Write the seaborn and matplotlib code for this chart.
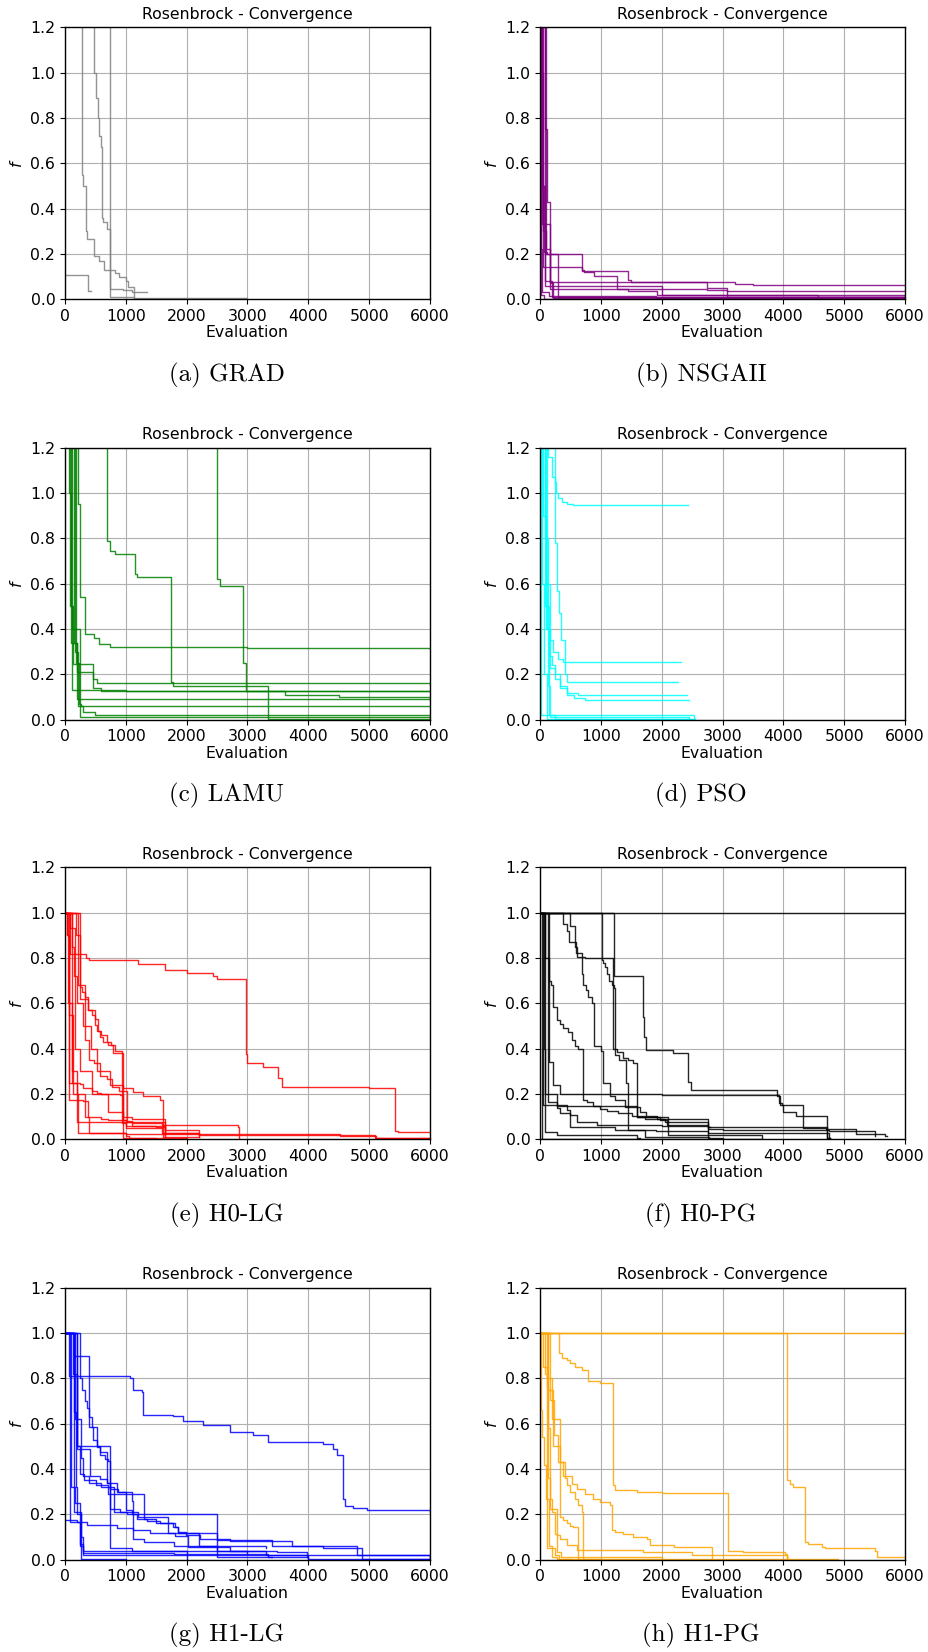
import numpy as np
import pandas as pd
import matplotlib
matplotlib.use("Agg")
import matplotlib.pyplot as plt
import seaborn as sns

# ---------------- data (step-wise convergence runs) ----------------
XTICKS = [0, 1000, 2000, 3000, 4000, 5000, 6000]
YTICKS = [0.0, 0.2, 0.4, 0.6, 0.8, 1.0, 1.2]

GRAD_X = [
    [0, 274, 300, 345, 365, 480, 560, 640, 820, 880, 1010, 1040, 1123, 1134, 3000],
    [0, 477, 510, 537, 564, 592, 603, 630, 685, 740, 960, 1100, 1342],
    [0, 745, 1130, 2000],
    [0, 384, 427],
]
GRAD_Y = [
    [5, 0.55, 0.50, 0.30, 0.265, 0.19, 0.17, 0.13, 0.115, 0.10, 0.08, 0.055, 0.055, 0.004, 0.003],
    [5, 1.0, 0.89, 0.80, 0.72, 0.67, 0.36, 0.34, 0.31, 0.045, 0.04, 0.032, 0.03],
    [5, 0.008, 0.003, 0.002],
    [0.107, 0.037, 0.037],
]

NSGA_X = [
    [0, 30, 60, 120, 690, 730, 880, 1260, 2740, 3070, 6000],
    [0, 20, 50, 690, 1450, 1500, 3205, 3507, 6000],
    [0, 80, 110, 160, 2740, 3070, 6000],
    [0, 40, 170, 1450, 1918, 4575, 4630, 6000],
    [0, 25, 80, 200, 6000],
    [0, 15, 40, 150, 1900, 6000],
    [0, 50, 100, 300, 6000],
    [0, 10, 60, 6000],
    [0, 100, 160, 220, 6000],
    [0, 70, 90, 2000, 6000],
]
NSGA_Y = [
    [4, 0.5, 0.21, 0.199, 0.13, 0.12, 0.103, 0.044, 0.042, 0.012, 0.012],
    [3, 1.0, 0.144, 0.126, 0.085, 0.077, 0.068, 0.063, 0.063],
    [3, 0.75, 0.43, 0.075, 0.048, 0.038, 0.038],
    [2, 0.33, 0.044, 0.037, 0.019, 0.012, 0.008, 0.008],
    [5, 0.5, 0.08, 0.012, 0.01],
    [1.5, 0.22, 0.03, 0.015, 0.006, 0.005],
    [6, 0.3, 0.2, 0.008, 0.004],
    [2.5, 0.02, 0.003, 0.002],
    [4, 0.22, 0.07, 0.005, 0.003],
    [5, 1.2, 0.06, 0.02, 0.015],
]

LAMU_X = [
    [0, 696, 740, 820, 1150, 1180, 1737, 1780, 3342, 6000],
    [0, 2504, 2540, 2932, 2980, 6000],
    [0, 210, 240, 330, 480, 560, 740, 3000, 6000],
    [0, 60, 100, 130, 455, 520, 3500, 6000],
    [0, 80, 110, 1000, 6000],
    [0, 150, 200, 6000],
    [0, 100, 190, 455, 600, 3616, 4500, 6000],
    [0, 180, 230, 260, 6000],
    [0, 170, 210, 300, 500, 6000],
    [0, 120, 250, 6000],
]
LAMU_Y = [
    [5, 0.79, 0.745, 0.73, 0.645, 0.63, 0.166, 0.148, 0.004, 0.003],
    [5, 0.62, 0.59, 0.25, 0.125, 0.125],
    [5, 0.95, 0.54, 0.38, 0.36, 0.335, 0.32, 0.315, 0.313],
    [2, 1.0, 0.5, 0.247, 0.18, 0.163, 0.16, 0.155],
    [5, 0.5, 0.13, 0.127, 0.125],
    [3, 0.34, 0.09, 0.088],
    [2.5, 0.34, 0.21, 0.14, 0.128, 0.11, 0.1, 0.095],
    [4, 0.25, 0.07, 0.059, 0.058],
    [5, 0.3, 0.06, 0.034, 0.02, 0.018],
    [3, 0.4, 0.012, 0.008],
]

PSO_X = [
    [0, 247, 270, 300, 360, 450, 548, 2427],
    [0, 137, 192, 247, 274, 312, 340, 411, 438, 2263],
    [0, 100, 160, 220, 300, 384, 2312],
    [0, 90, 150, 200, 250, 330, 450, 630, 2411],
    [0, 110, 170, 240, 330, 450, 560, 740, 2455],
    [0, 30, 60, 110, 2550],
    [0, 50, 100, 150, 250, 2500],
    [0, 20, 2530],
    [0, 80, 130, 170, 2450],
]
PSO_Y = [
    [5, 1.05, 1.0, 0.98, 0.96, 0.95, 0.948, 0.948],
    [5, 1.16, 1.07, 0.78, 0.57, 0.47, 0.35, 0.2, 0.167, 0.167],
    [5, 0.6, 0.35, 0.3, 0.27, 0.254, 0.254],
    [4, 0.5, 0.28, 0.24, 0.2, 0.15, 0.12, 0.107, 0.107],
    [5, 0.4, 0.23, 0.18, 0.14, 0.11, 0.095, 0.088, 0.088],
    [5, 0.6, 0.2, 0.005, 0.003],
    [5, 0.9, 0.4, 0.02, 0.005, 0.003],
    [5, 0.02, 0.001],
    [5, 0.8, 0.15, 0.01, 0.003],
]

H0LG_X = [
    [0, 80, 345, 400, 1205, 1644, 2000, 2438, 2500, 2970, 3000, 3250, 3507, 3560, 5000, 5425, 5480, 6000],
    [0, 30, 71, 250, 290, 440, 520, 600, 900, 960, 1100, 1640, 2200],
    [0, 247, 275, 330, 385, 440, 493, 521, 575, 630, 712, 795, 932, 1000, 1650],
    [0, 110, 150, 200, 300, 420, 520, 740, 960, 1120, 1290, 1562, 1616, 2200],
    [0, 180, 250, 380, 490, 550, 600, 690, 750, 830, 940, 948, 1500],
    [0, 210, 330, 400, 470, 580, 690, 770, 880, 1014, 1100, 1500, 1640, 1650],
    [0, 40, 71, 300, 380, 600, 700, 1000, 1640, 2200],
    [0, 50, 120, 192, 600, 1120, 1600, 2850, 2860],
    [0, 120, 200, 330, 400, 1000, 1100, 4520, 5120, 6000],
    [0, 60, 130, 220, 1000, 1050, 2000],
    [0, 90, 170, 250, 450, 700, 960, 1000, 1600, 2200, 4000, 5100, 6000],
]
H0LG_Y = [
    [1.0, 0.816, 0.80, 0.79, 0.774, 0.745, 0.735, 0.72, 0.708, 0.376, 0.335, 0.32, 0.27, 0.232, 0.225, 0.037, 0.031, 0.031],
    [1.0, 0.9, 0.25, 0.245, 0.225, 0.215, 0.205, 0.2, 0.195, 0.1, 0.09, 0.03, 0.02],
    [1.0, 0.67, 0.65, 0.63, 0.57, 0.55, 0.505, 0.48, 0.45, 0.43, 0.415, 0.38, 0.07, 0.06, 0.02],
    [1.0, 0.85, 0.72, 0.6, 0.5, 0.4, 0.3, 0.24, 0.225, 0.21, 0.19, 0.174, 0.012, 0.012],
    [1.0, 0.9, 0.62, 0.57, 0.53, 0.48, 0.46, 0.43, 0.415, 0.39, 0.38, 0.005, 0.004],
    [1.0, 0.68, 0.44, 0.35, 0.335, 0.28, 0.265, 0.23, 0.215, 0.08, 0.06, 0.055, 0.01, 0.01],
    [1.0, 0.9, 0.174, 0.17, 0.1, 0.09, 0.085, 0.075, 0.04, 0.01],
    [1.0, 0.6, 0.25, 0.078, 0.076, 0.074, 0.065, 0.055, 0.004],
    [1.0, 0.3, 0.2, 0.1, 0.03, 0.025, 0.024, 0.015, 0.004, 0.004],
    [1.0, 0.55, 0.2, 0.026, 0.015, 0.005, 0.004],
    [1.0, 0.93, 0.4, 0.3, 0.2, 0.12, 0.085, 0.05, 0.03, 0.02, 0.018, 0.005, 0.004],
]

H0PG_X = [
    [0, 6000],
    [0, 1025, 1040, 1070, 1100, 1140, 1180, 1220, 1233, 1260, 1370, 1450, 1530, 1600, 1640, 1970, 2082, 2767, 3014],
    [0, 1222, 1699, 1710, 1750, 2192, 2438, 2480, 3890, 3930, 3970, 4329, 4700, 5200, 5671, 5700],
    [0, 384, 440, 480, 600, 685, 740, 1205, 1240, 1300, 1408, 1440, 1900, 2767, 4750, 4760],
    [0, 493, 575, 603, 685, 712, 753, 795, 850, 890, 1000, 1030, 1150, 1233, 1400, 1640, 1750, 1918, 2767, 4712, 4750],
    [0, 153, 175, 219, 274, 329, 383, 466, 521, 575, 630, 704, 767, 877, 986, 1096, 1288, 1507, 1726, 2055, 2767, 2800],
    [0, 80, 150, 219, 329, 2000, 3890, 3950, 4000, 4200, 4712, 4760],
    [0, 137, 274, 438, 493, 603, 932, 2000, 2767, 3014, 4750, 5500],
    [0, 55, 274, 329, 493, 1233, 1726, 2767, 2780],
    [0, 82, 274, 1589, 1640],
    [0, 25, 3650],
    [0, 60, 80, 274, 1600, 2100, 3650],
]
H0PG_Y = [
    [1.0, 1.0],
    [1.0, 0.79, 0.78, 0.76, 0.73, 0.70, 0.68, 0.666, 0.40, 0.385, 0.357, 0.35, 0.335, 0.10, 0.097, 0.085, 0.063, 0.004, 0.004],
    [1.0, 0.72, 0.54, 0.45, 0.395, 0.38, 0.254, 0.218, 0.195, 0.16, 0.151, 0.049, 0.045, 0.025, 0.015, 0.015],
    [1.0, 0.95, 0.92, 0.87, 0.82, 0.806, 0.8, 0.40, 0.37, 0.35, 0.25, 0.04, 0.035, 0.03, 0.005, 0.005],
    [1.0, 0.94, 0.85, 0.806, 0.73, 0.68, 0.66, 0.63, 0.6, 0.41, 0.39, 0.247, 0.19, 0.174, 0.144, 0.122, 0.103, 0.09, 0.056, 0.004, 0.004],
    [1.0, 0.70, 0.68, 0.585, 0.527, 0.51, 0.49, 0.475, 0.44, 0.41, 0.40, 0.174, 0.165, 0.145, 0.135, 0.125, 0.115, 0.105, 0.09, 0.078, 0.056, 0.056],
    [1.0, 0.8, 0.34, 0.24, 0.2, 0.195, 0.19, 0.15, 0.12, 0.105, 0.005, 0.005],
    [1.0, 0.166, 0.15, 0.13, 0.107, 0.078, 0.063, 0.058, 0.045, 0.04, 0.035, 0.015],
    [1.0, 0.15, 0.14, 0.115, 0.056, 0.04, 0.012, 0.01, 0.01],
    [1.0, 0.034, 0.019, 0.004, 0.004],
    [1.0, 0.002, 0.001],
    [1.0, 0.4, 0.2, 0.145, 0.1, 0.02, 0.005],
]

H1LG_X = [
    [0, 60, 1068, 1120, 1260, 1288, 1781, 1945, 2274, 2712, 3096, 3342, 4247, 4400, 4466, 4564, 4600, 4740, 4959, 6000],
    [0, 247, 274, 329, 367, 400, 438, 521, 575, 657, 712, 740, 1100, 2000],
    [0, 150, 400, 466, 521, 575, 685, 849, 1096, 1112, 1300, 1800, 2500, 3300, 4000],
    [0, 192, 411, 575, 685, 740, 877, 1000, 1100, 1300, 1500, 1781, 1850, 2200, 3300],
    [0, 200, 740, 904, 1014, 1178, 1342, 1562, 1808, 1863, 1995, 2214, 2712, 3726, 4247, 4877, 4890, 6000],
    [0, 82, 356, 849, 1123, 1397, 1808, 2027, 2712, 3480, 3973],
    [0, 192, 250, 300, 1800, 3342, 3400],
    [0, 150, 180, 200, 260, 300, 6000],
    [0, 130, 200, 250, 310, 510, 700, 1300, 2500, 3400, 4800, 6000],
    [0, 170, 260, 290, 400, 600, 800, 1200, 1700, 2500, 3000],
    [0, 100, 170, 240, 300, 2500, 4000, 6000],
    [0, 140, 263, 1000],
]
H1LG_Y = [
    [1.0, 0.81, 0.80, 0.748, 0.74, 0.64, 0.635, 0.61, 0.593, 0.563, 0.55, 0.52, 0.51, 0.49, 0.463, 0.27, 0.235, 0.228, 0.218, 0.21],
    [1.0, 0.80, 0.75, 0.70, 0.67, 0.63, 0.585, 0.50, 0.46, 0.445, 0.434, 0.05, 0.04, 0.005],
    [1.0, 0.9, 0.585, 0.53, 0.497, 0.475, 0.34, 0.30, 0.26, 0.09, 0.08, 0.06, 0.04, 0.02, 0.005],
    [1.0, 0.49, 0.37, 0.355, 0.34, 0.31, 0.3, 0.22, 0.2, 0.18, 0.16, 0.145, 0.12, 0.06, 0.05],
    [1.0, 0.5, 0.225, 0.21, 0.2, 0.18, 0.17, 0.16, 0.145, 0.122, 0.107, 0.093, 0.082, 0.06, 0.05, 0.034, 0.004, 0.003],
    [1.0, 0.166, 0.151, 0.14, 0.13, 0.12, 0.105, 0.056, 0.04, 0.033, 0.01],
    [0.175, 0.168, 0.06, 0.03, 0.025, 0.01, 0.01],
    [1.0, 0.65, 0.32, 0.2, 0.1, 0.02, 0.004],
    [1.0, 0.82, 0.5, 0.38, 0.35, 0.33, 0.29, 0.2, 0.085, 0.06, 0.02, 0.005],
    [1.0, 0.62, 0.45, 0.37, 0.34, 0.32, 0.21, 0.19, 0.12, 0.04, 0.03],
    [1.0, 0.32, 0.25, 0.07, 0.04, 0.012, 0.005, 0.004],
    [1.0, 0.21, 0.001, 0.001],
]

H1PG_X = [
    [0, 6000],
    [0, 4066, 4110, 4160, 4356, 4410, 4630, 4690, 4986, 5507, 5540, 6000],
    [0, 318, 356, 438, 493, 575, 685, 795, 986, 1195, 1233, 1589, 2000, 3096, 3340, 4027, 4055],
    [0, 164, 235, 301, 383, 521, 603, 740, 877, 986, 1151, 1178, 1233, 1370, 1534, 1753, 1808, 2200, 2822],
    [0, 110, 200, 329, 411, 438, 493, 575, 630, 685, 702, 1000],
    [0, 130, 220, 330, 380, 438, 493, 550, 630, 650],
    [0, 137, 170, 274, 329, 438, 603, 1699, 2500, 4055, 4070],
    [0, 15, 40, 70, 100, 140, 200, 280, 500],
    [0, 50, 110, 250, 320, 4904],
    [0, 82, 110, 137, 164, 192, 247, 274, 350, 2000],
]
H1PG_Y = [
    [1.0, 1.0],
    [1.0, 0.35, 0.335, 0.32, 0.08, 0.07, 0.056, 0.052, 0.05, 0.04, 0.013, 0.013],
    [1.0, 0.91, 0.89, 0.88, 0.87, 0.85, 0.835, 0.787, 0.78, 0.33, 0.306, 0.30, 0.294, 0.037, 0.034, 0.026, 0.004],
    [1.0, 0.705, 0.55, 0.43, 0.37, 0.335, 0.31, 0.29, 0.27, 0.255, 0.24, 0.13, 0.122, 0.113, 0.10, 0.093, 0.063, 0.058, 0.004],
    [1.0, 0.8, 0.62, 0.43, 0.36, 0.33, 0.30, 0.27, 0.24, 0.21, 0.004, 0.003],
    [1.0, 0.75, 0.5, 0.19, 0.175, 0.16, 0.15, 0.145, 0.004, 0.004],
    [1.0, 0.36, 0.225, 0.107, 0.093, 0.063, 0.045, 0.034, 0.02, 0.012, 0.012],
    [1.0, 0.66, 0.54, 0.42, 0.27, 0.06, 0.01, 0.004, 0.004],
    [1.0, 0.85, 0.05, 0.02, 0.004, 0.003],
    [1.0, 0.82, 0.76, 0.58, 0.27, 0.21, 0.115, 0.034, 0.01, 0.006],
]

CAPTIONS = ["(a) GRAD", "(b) NSGAII", "(c) LAMU", "(d) PSO",
            "(e) H0-LG", "(f) H0-PG", "(g) H1-LG", "(h) H1-PG"]
COLORS = ["gray", "purple", "green", "cyan", "red", "black", "blue", "orange"]
SERIES = [(GRAD_X, GRAD_Y), (NSGA_X, NSGA_Y), (LAMU_X, LAMU_Y), (PSO_X, PSO_Y),
          (H0LG_X, H0LG_Y), (H0PG_X, H0PG_Y), (H1LG_X, H1LG_Y), (H1PG_X, H1PG_Y)]

# ---------------- figure ----------------
W, H = 929, 1652
fig = plt.figure(figsize=(W / 100, H / 100), dpi=100)
lefts = [65, 540]
tops = [27.3, 447.7, 867.3, 1287.7]
aw, ah = 365, 272
cap_cx = [227, 701]

for i, ((xs, ys), col, cap) in enumerate(zip(SERIES, COLORS, CAPTIONS)):
    r, c = divmod(i, 2)
    ax = fig.add_axes([lefts[c] / W, 1 - (tops[r] + ah) / H, aw / W, ah / H])
    rows = []
    for k, (xx, yy) in enumerate(zip(xs, ys)):
        for a, b in zip(xx, yy):
            rows.append((k, a, b))
    df = pd.DataFrame(rows, columns=["run", "Evaluation", "f"])
    sns.lineplot(data=df, x="Evaluation", y="f", units="run", estimator=None,
                 sort=False, color=col, lw=1.0, alpha=0.85,
                 drawstyle="steps-post", ax=ax, legend=False)
    ax.set_xlim(0, 6000)
    ax.set_ylim(0, 1.2)
    ax.set_xticks(XTICKS)
    ax.set_yticks(YTICKS)
    ax.set_yticklabels([f"{v:.1f}" for v in YTICKS])
    ax.tick_params(labelsize=11.3)
    ax.grid(True, color="#b0b0b0", lw=0.8)
    ax.set_axisbelow(True)
    for s in ax.spines.values():
        s.set_color("black")
        s.set_linewidth(1.0)
    ax.set_title("Rosenbrock - Convergence", fontsize=11.3)
    ax.set_xlabel("Evaluation", fontsize=11.3, labelpad=1)
    ax.set_ylabel("$f$", fontsize=11.3)
    cy = tops[r] + ah + 76
    fig.text(cap_cx[c] / W, 1 - cy / H, cap, ha="center", va="center",
             fontsize=18, family=["cmr10", "DejaVu Serif"])

fig.savefig("out.png", dpi=100)
